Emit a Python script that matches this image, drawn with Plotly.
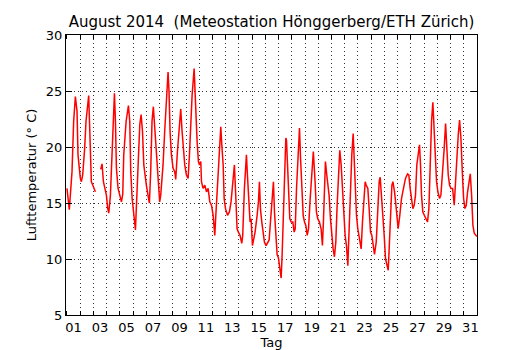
import plotly.graph_objects as go

# Time in hours since 1 Aug 2014 00:00 and air temperature (°C)
hours = [0.0, 4.2, 9.1, 12.1, 15.2, 18.2, 20.0, 22.4, 24.2, 26.1, 28.5, 32.1, 34.5, 39.4, 41.8, 44.2,
         46.7, 48.5, 51.5, None, 61.2, 63.6, 66.1, 68.5, 71.5, 73.9, 75.8, 78.8, 81.8, 83.6, 86.1, 87.9,
         89.7, 92.7, 95.7, 98.8, 101.2, 103.0, 107.3, 111.5, 113.9, 115.7, 118.2, 121.2, 124.2, 127.3,
         129.1, 132.1, 134.5, 137.0, 139.4, 142.4, 144.0, 147.0, 149.5, 151.9, 154.3, 156.7, 159.2,
         162.2, 164.0, 166.4, 168.2, 170.1, 174.3, 177.3, 180.4, 183.4, 185.2, 187.0, 189.5, 192.5,
         195.5, 197.3, 200.4, 203.4, 206.4, 208.8, 211.3, 213.7, 216.7, 219.8, 222.2, 224.6, 227.0,
         230.7, 231.9, 233.7, 236.1, 238.5, 240.4, 242.8, 244.0, 247.0, 250.1, 253.1, 256.1, 259.1,
         262.2, 265.2, 268.2, 269.4, 273.1, 275.5, 279.1, 280.9, 283.4, 285.2, 287.6, 291.3, 294.7,
         297.7, 300.1, 303.8, 306.2, 308.6, 311.0, 314.1, 317.1, 318.9, 321.9, 325.6, 327.4, 329.8,
         332.2, 334.1, 336.5, 338.9, 341.3, 345.0, 347.4, 349.2, 351.0, 353.5, 355.9, 358.3, 361.3,
         364.4, 366.8, 369.2, 371.6, 374.6, 376.5, 378.9, 381.3, 383.7, 386.2, 388.6, 390.4, 392.8,
         395.2, 397.1, 398.3, 400.1, 402.5, 404.3, 406.8, 409.8, 412.2, 414.1, 416.5, 418.9, 420.7,
         421.9, 423.8, 426.2, 428.6, 431.0, 433.4, 435.9, 438.3, 441.3, 444.3, 447.0, 450.2, 452.6,
         455.0, 458.1, 461.1, 463.5, 465.3, 467.2, 469.0, 471.4, 473.2, 475.6, 478.1, 480.5, 482.9,
         485.3, 487.8, 490.2, 492.6, 495.0, 497.5, 499.9, 502.3, 504.7, 507.1, 509.6, 512.0, 514.4,
         516.8, 519.3, 521.1, 522.9, 525.3, 527.7, 531.4, 533.8, 536.2, 538.7, 541.1, 542.9, 545.9,
         548.3, 550.8, 553.2, 555.6, 558.0, 561.1, 564.1, 566.5, 568.3, 570.8, 573.2, 575.6, 578.0,
         581.1, 582.9, 584.7, 587.2, 589.6, 591.4, 594.4, 596.9, 600.9, 603.9, 607.0, 610.6, 614.2,
         617.9, 620.3, 622.7, 625.1, 627.6, 630.0, 632.4, 634.8, 637.3, 639.7, 641.5, 643.3, 645.7,
         648.2, 651.2, 654.2, 656.7, 659.1, 661.5, 663.9, 666.4, 668.2, 670.6, 673.0, 676.1, 678.5,
         681.5, 684.5, 687.0, 689.4, 691.8, 694.2, 696.7, 699.7, 702.7, 705.1, 707.6, 710.0, 712.4,
         714.8, 717.3, 719.7, 722.1, 724.5, 726.9, 729.4, 731.8, 734.2, 736.6, 739.0, 742.1, 743.9]

temps = [16.3, 14.4, 17.8, 22.3, 24.5, 23.2, 19.3, 17.8, 17.2, 16.9, 17.5, 19.9, 22.3, 24.6, 20.8, 16.9,
         16.6, 16.3, 16.0, None, 18.0, 18.5, 16.9, 16.3, 15.7, 14.5, 14.1, 15.7, 19.3, 22.3, 24.8, 22.3,
         18.1, 16.3, 15.7, 15.1, 15.8, 19.3, 22.3, 23.7, 22.3, 17.8, 15.4, 13.9, 12.6, 16.3,
         18.4, 22.0, 22.9, 21.4, 18.4, 16.9, 16.6, 15.7, 15.0, 17.8, 22.3, 23.6, 21.7,
         19.6, 17.5, 16.0, 15.1, 15.7, 18.4, 21.4, 23.7, 26.7, 24.9, 21.4, 19.3, 18.1,
         17.8, 17.1, 19.6, 21.7, 23.4, 21.4, 19.9, 18.4, 17.5, 17.2, 19.3, 22.3, 24.6,
         27.0, 25.2, 22.9, 20.5, 18.7, 18.4, 18.7, 16.9, 16.3, 16.6, 16.0, 16.3, 15.1,
         14.8, 13.9, 12.1, 13.3, 16.9, 19.3, 21.8, 20.2, 18.4, 15.4, 14.5, 13.9, 14.2,
         15.1, 16.3, 18.4, 15.7, 12.7, 12.4, 12.1, 11.4, 12.1, 16.3, 19.3, 17.5, 15.7,
         13.3, 13.6, 11.2, 11.8, 12.4, 13.9, 15.1, 16.9, 14.5, 13.3, 12.1, 11.5, 11.2,
         11.5, 11.7, 13.3, 15.1, 16.9, 14.2, 12.1, 10.4, 10.1, 9.2, 8.3, 10.4, 14.8,
         17.8, 20.8, 20.6, 18.7, 15.7, 13.6, 13.3, 13.3, 12.4, 12.7, 16.3, 19.3, 21.1,
         21.7, 19.0, 16.3, 13.9, 13.3, 13.0, 12.1, 12.7, 15.4, 17.8, 19.6, 16.9, 14.2,
         13.6, 13.3, 12.7, 11.2, 13.3, 16.3, 18.7, 17.5, 16.9, 15.7, 13.6, 12.1, 10.9,
         10.2, 11.5, 14.8, 18.1, 19.7, 18.4, 16.3, 13.3, 12.1, 11.2, 9.4, 12.7, 16.6,
         19.3, 21.2, 19.3, 16.3, 13.9, 12.7, 11.7, 10.9, 13.3, 15.1, 16.9, 16.6, 16.3,
         14.5, 12.4, 12.1, 11.2, 10.4, 11.5, 15.4, 16.9, 17.3, 15.7, 13.9, 12.1, 10.0,
         9.5, 9.0, 11.0, 14.8, 16.6, 16.9, 16.0, 14.8, 12.7, 13.9, 15.4, 16.3, 17.2,
         17.6, 17.5, 16.3, 15.1, 14.5, 14.8, 15.7, 18.4, 19.3, 20.2, 18.4, 15.7, 14.2,
         13.9, 13.6, 13.3, 14.5, 18.7, 22.3, 24.0, 21.7, 19.0, 16.9, 16.0, 15.4, 15.7,
         17.5, 19.9, 22.1, 19.0, 17.5, 16.6, 16.3, 16.3, 14.8, 16.9, 19.3, 21.1, 22.4,
         20.8, 17.8, 15.4, 14.5, 14.8, 16.0, 16.9, 17.6, 15.7, 13.0, 12.3, 12.1, 12.0]

day_labels = ["01", "03", "05", "07", "09", "11", "13", "15", "17", "19", "21", "23", "25", "27", "29", "31"]
label_hours = [12 + 48 * k for k in range(len(day_labels))]
day_bounds = [24 * d for d in range(32)]
y_ticks = [5, 10, 15, 20, 25, 30]

FONT = "DejaVu Sans"

# The page body has an 8px default margin, so the figure is 8px smaller and starts at (8, 8)
W, H = 522, 342

fig = go.Figure()
fig.add_trace(go.Scatter(x=hours, y=temps, mode="lines", connectgaps=False,
                         line=dict(color="#ff0000", width=1.5), showlegend=False))

fig.update_layout(
    width=W, height=H,
    margin=dict(l=58, r=53, t=27, b=35, autoexpand=False),
    paper_bgcolor="white", plot_bgcolor="white",
    font=dict(family=FONT, size=13, color="black"),
    title=dict(text="August 2014\u00a0\u00a0(Meteostation Hönggerberg/ETH Zürich)",
               x=0.5, xref="paper", xanchor="center", y=1 - 14 / H, yanchor="middle",
               font=dict(family=FONT, size=15, color="black")),
    xaxis=dict(range=[-1.8, 744], tickmode="array", tickvals=label_hours, ticktext=day_labels,
               ticks="", showgrid=False, zeroline=False, automargin=False,
               showline=True, linecolor="black", linewidth=1, mirror="ticks",
               title=dict(text="Tag", standoff=2, font=dict(size=13)),
               tickfont=dict(size=13),
               minor=dict(tickmode="array", tickvals=day_bounds, ticks="inside", ticklen=4,
                          tickcolor="black", showgrid=True, griddash="1px,3px",
                          gridcolor="#333333", gridwidth=1)),
    yaxis=dict(range=[5, 30], tickmode="array", tickvals=y_ticks,
               ticks="inside", ticklen=6, tickcolor="black", automargin=False,
               showgrid=True, griddash="1px,3px", gridcolor="#333333", gridwidth=1,
               zeroline=False, showline=True, linecolor="black", linewidth=1, mirror="ticks",
               title=dict(text="Lufttemperatur (° C)", standoff=6, font=dict(size=13)),
               tickfont=dict(size=13)),
)

fig.write_html("out.html")
